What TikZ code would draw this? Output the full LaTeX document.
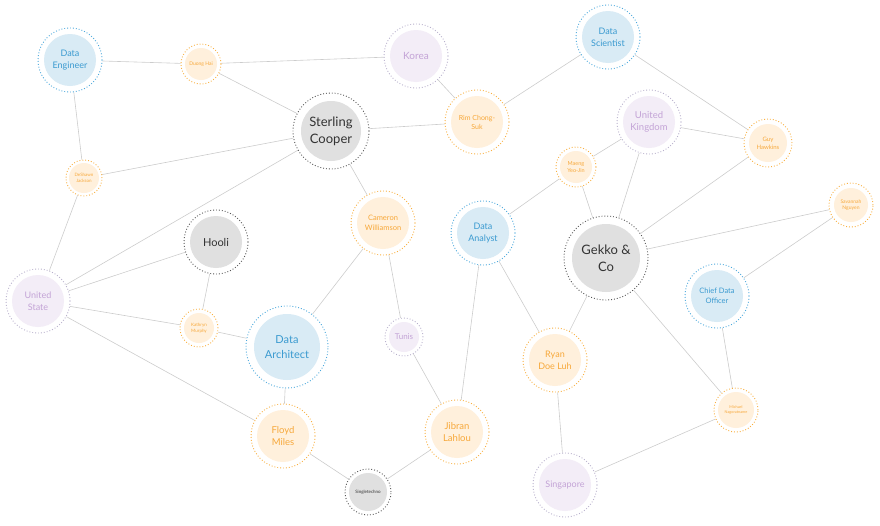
\documentclass[tikz,border=0pt]{standalone}
\usepackage{fontspec}
\setmainfont{Lato}
\usetikzlibrary{backgrounds}
\definecolor{bfill}{HTML}{D9EBF5}\definecolor{btext}{HTML}{3A9AD0}\definecolor{bring}{HTML}{4AA8DC}
\definecolor{ofill}{HTML}{FFF0DC}\definecolor{otext}{HTML}{F7A83A}\definecolor{oring}{HTML}{F9B040}
\definecolor{pfill}{HTML}{F3EDF7}\definecolor{ptext}{HTML}{C3A3D6}\definecolor{pring}{HTML}{B8B0CC}
\definecolor{gfill}{HTML}{E0E0E0}\definecolor{gtext}{HTML}{333333}\definecolor{gring}{HTML}{555555}
\definecolor{edgecol}{HTML}{CCCCCC}
\newcommand\nd[8]{%
 \node[circle,draw=#6ring,dotted,line width=0.9pt,fill=white,minimum size=#4*2pt,inner sep=0pt,
   align=center,text=#6text,font=\fontsize{#7pt}{\dimexpr #7pt*13/10\relax}\selectfont,
   path picture={\fill[#6fill] (path picture bounding box.center) circle (#5pt);}]
   (#1) at (#2,#3) {#8};}
\begin{document}
\begin{tikzpicture}[x=1pt,y=-1pt]
\useasboundingbox (0,0) rectangle (880,525);
\nd{de}{70}{60}{32}{26}{b}{9}{Data\\Engineer}
\nd{dh}{201}{64}{20}{16}{o}{5}{Duong Hai}
\nd{ko}{416}{56}{32}{26}{p}{10}{Korea}
\nd{sc}{331}{131}{38}{30}{g}{13}{Sterling\\Cooper}
\nd{rc}{477}{122}{32}{26}{o}{7}{Rim Chong-\\Suk}
\nd{ds}{608}{37}{32}{26}{b}{9}{Data\\Scientist}
\nd{uk}{649}{122}{32}{26}{p}{9.5}{United\\Kingdom}
\nd{my}{576}{167}{20}{16}{o}{5.5}{Maeng\\Yeo-Jin}
\nd{gh}{768}{143}{24}{19}{o}{6}{Guy\\Hawkins}
\nd{sn}{851}{205}{22}{17}{o}{5}{Savannah\\Nguyen}
\nd{dj}{84}{178}{18}{15}{o}{4.5}{DeShawn\\Jackson}
\nd{cw}{383}{223}{32}{26}{o}{7.5}{Cameron\\Williamson}
\nd{ho}{216}{242}{32}{26}{g}{11}{Hooli}
\nd{da}{483}{233}{32}{26}{b}{9}{Data\\Analyst}
\nd{gk}{606}{258}{42}{34}{g}{13}{Gekko \&\\Co}
\nd{us}{38}{301}{32}{26}{p}{9}{United\\State}
\nd{km}{199}{328}{19}{15}{o}{4.5}{Kathryn\\Murphy}
\nd{ar}{287}{347}{41}{33}{b}{11}{Data\\Architect}
\nd{tu}{404}{337}{19}{15}{p}{8}{Tunis}
\nd{cd}{717}{296}{32}{26}{b}{7.5}{Chief Data\\Officer}
\nd{rd}{555}{360}{32}{26}{o}{9}{Ryan\\Doe Luh}
\nd{mn}{736}{410}{22}{18}{o}{3.8}{Michael\\Nagoratname}
\nd{fm}{283}{436}{32}{26}{o}{9.5}{Floyd\\Miles}
\nd{jl}{457}{432}{32}{26}{o}{9.5}{Jibran\\Lahlou}
\nd{st}{368}{492}{23}{19}{g}{4.5}{Singletechno}
\nd{sg}{565}{485}{32}{26}{p}{9}{Singapore}
\begin{scope}[on background layer]
\foreach \a/\b in {de/dh,dh/ko,dh/sc,de/dj,dj/sc,dj/us,us/sc,us/ho,us/km,us/fm,ko/rc,sc/rc,sc/cw,rc/ds,ds/gh,uk/gh,uk/my,uk/gk,my/da,my/gk,gh/gk,gk/sn,sn/cd,cw/ar,cw/tu,ho/km,km/ar,ar/fm,tu/jl,fm/st,jl/st,da/jl,da/rd,gk/rd,gk/mn,cd/mn,rd/sg,sg/mn}
  \draw[edgecol,line width=0.6pt] (\a) -- (\b);
\end{scope}
\end{tikzpicture}
\end{document}
